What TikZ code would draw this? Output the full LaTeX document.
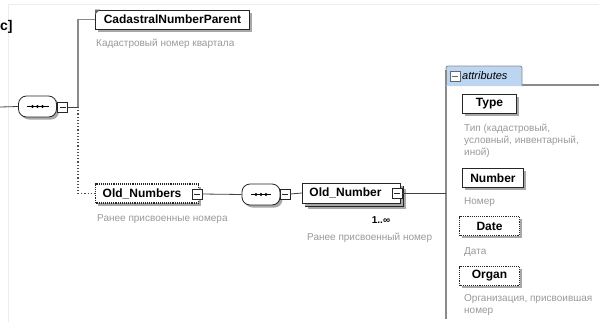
\documentclass[tikz,border=0pt]{standalone}
\usepackage{fontspec}
\setmainfont{Liberation Sans}
\usetikzlibrary{shadows}
\definecolor{descgray}{HTML}{9A9A9A}
\definecolor{linegray}{HTML}{8A8A8A}
\definecolor{tabblue}{HTML}{BCD6F2}
\definecolor{shadowgray}{HTML}{A8A8A8}
\tikzset{
  bshadow/.style={drop shadow={shadow xshift=2.5pt, shadow yshift=-2.5pt, fill=shadowgray, opacity=1}},
  elem/.style={draw=black!85, fill=white, line width=0.9pt, rectangle, inner sep=0pt,
    minimum height=19pt, anchor=west, bshadow,
    font=\bfseries\fontsize{12}{12}\selectfont},
  optelem/.style={elem, densely dotted, line width=1.1pt},
  desc/.style={text=descgray, font=\fontsize{10}{12}\selectfont, anchor=west, inner sep=0pt, align=left},
  seqbox/.style={draw=black!85, fill=white, line width=0.8pt, rounded corners=8pt,
    minimum width=38pt, minimum height=21pt, inner sep=0pt, bshadow},
  sqbox/.style={draw=black!85, fill=white, line width=0.7pt, minimum width=10pt,
    minimum height=10pt, inner sep=0pt, path picture={\draw[line width=0.7pt]
      ([xshift=2pt]path picture bounding box.west) -- ([xshift=-2pt]path picture bounding box.east);}},
  conn/.style={draw=black!75, line width=0.8pt},
  dotconn/.style={draw=black!70, line width=1.2pt, dotted},
  seqline/.style={line width=1pt}
}
\begin{document}
\begin{tikzpicture}[x=1pt,y=-1pt]
\useasboundingbox (0,0) rectangle (599,322);
\fill[white] (0,0) rectangle (599,322);
% faint frame
\draw[black!7, line width=0.8pt] (8,322) -- (8,4) -- (599,4);

% heading fragment
\node[font=\bfseries\fontsize{14}{14}\selectfont, anchor=west, inner sep=0pt] (hd) at (0,27) {c]};

% elements
\node[elem, minimum width=154pt] (cnp) at (95,19.5) {CadastralNumberParent};
\fill[black!60] (cnp.north west) -- ++(5,0) -- ++(-5,5) -- cycle;
\node[desc] (cnpd) at (96,44) {Кадастровый номер квартала};

% sequence 1
\coordinate (start) at (0,107);
\node[seqbox] (seq1) at (37.5,106.5) {};
\draw[seqline] ([xshift=-11pt]seq1.center) -- ([xshift=11pt]seq1.center);
\foreach \dx in {-5,0,5} \fill ([xshift=\dx pt]seq1.center) circle (1.6pt);
\node[sqbox] (sq1) at (62.5,107) {};
\coordinate (j1) at (78,107);
\draw[conn] (start) -- (seq1.west);
\draw[conn] (sq1.east) -- (j1);
\draw[draw=linegray, line width=1.8pt] (j1) -- (j1 |- cnp.west) -- (cnp.west);

% Old_Numbers
\node[optelem, minimum width=103pt] (oldnums) at (95,193.5) {\hspace*{-10pt}Old\_Numbers};
\node[sqbox] (sq2) at (197,194) {};
\node[desc] (oldnumsd) at (97,219) {Ранее присвоенные номера};
\draw[dotconn] (j1) -- (j1 |- oldnums.west) -- (oldnums.west);

% sequence 2
\node[seqbox] (seq2) at (261,194.5) {};
\draw[seqline] ([xshift=-10pt]seq2.center) -- ([xshift=10pt]seq2.center);
\foreach \dx in {-5,0,5} \fill ([xshift=\dx pt]seq2.center) circle (1.6pt);
\node[sqbox] (sq3) at (285,194) {};
\draw[conn] (sq2.east) -- (seq2.west);

% Old_Number (repeated)
\node[draw=black!85, fill=white, line width=0.9pt, minimum width=98pt, minimum height=20pt,
  inner sep=0pt, anchor=west, bshadow] (oldnumback) at (305,196) {};
\node[elem, minimum width=98pt, minimum height=20pt] (oldnum) at (302,193) {\hspace*{-12pt}Old\_Number};
\node[sqbox] (sq4) at (397,193) {};
\node[font=\bfseries\fontsize{10}{10}\selectfont, inner sep=0pt] (mult) at (381,220) {1..∞};
\node[desc] (oldnumd) at (307,238) {Ранее присвоенный номер};
\draw[conn] (sq3.east) -- (oldnum.west);

% attributes panel
\coordinate (pl) at (446,193);
\draw[draw=linegray, line width=1.5pt] (446,319) -- (446,85) -- (599,85);
\filldraw[fill=tabblue, draw=black!45, line width=0.8pt, rounded corners=2pt]
  (446,86) -- (446,66) -- (522,66) -- (522,86);
\draw[draw=linegray, line width=1.5pt] (446,85) -- (446,70);
\node[sqbox, draw=black!60, fill=white!90!tabblue] (tabsq) at (455,76) {};
\node[font=\itshape\fontsize{11}{11}\selectfont, anchor=west, inner sep=0pt] (attr) at (462,76) {attributes};
\draw[conn] (sq4.east) -- (pl);

\node[elem, minimum width=54pt] (type) at (462,104) {Type};
\node[desc, anchor=north west] (typed) at (464,124) {Тип (кадастровый,\\условный, инвентарный,\\иной)};
\node[elem, minimum width=61pt] (number) at (462,178) {Number};
\node[desc] (numberd) at (464,202) {Номер};
\node[optelem, minimum width=60pt] (date) at (459,226) {Date};
\node[desc] (dated) at (464,252) {Дата};
\node[optelem, minimum width=60pt] (organ) at (459,276) {Organ};
\node[desc, anchor=north west] (organd) at (464,294) {Организация, присвоившая\\номер};
\end{tikzpicture}
\end{document}
